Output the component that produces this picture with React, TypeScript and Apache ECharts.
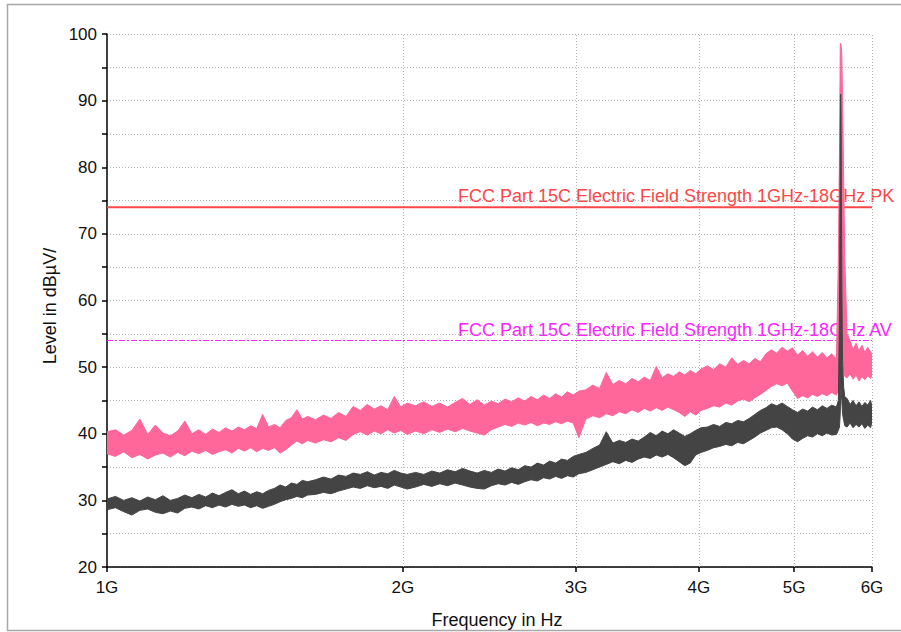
import React, { useEffect, useRef } from "react";
import * as echarts from "echarts";

// Frequency grid in GHz
const freqGHz = [
  1.00, 1.02, 1.04, 1.06, 1.08, 1.10, 1.12, 1.14, 1.16, 1.18, 1.20, 1.22, 1.24, 1.26, 1.28, 1.30,
  1.32, 1.34, 1.36, 1.38, 1.40, 1.42, 1.44, 1.46, 1.48, 1.50, 1.52, 1.54, 1.56, 1.58, 1.60,
  1.63, 1.66, 1.69, 1.72, 1.75, 1.78, 1.81, 1.84, 1.87, 1.90, 1.93, 1.96, 1.99, 2.02,
  2.06, 2.10, 2.14, 2.18, 2.22, 2.26, 2.30, 2.34, 2.38, 2.42, 2.46, 2.50, 2.54, 2.58, 2.62,
  2.66, 2.70, 2.74, 2.78, 2.82, 2.86, 2.90, 2.94, 2.98, 3.02,
  3.07, 3.12, 3.17, 3.22, 3.27, 3.32, 3.37, 3.42, 3.47, 3.52, 3.57, 3.62, 3.67, 3.72, 3.77,
  3.82, 3.87, 3.92, 3.97, 4.02,
  4.08, 4.14, 4.20, 4.26, 4.32, 4.38, 4.44, 4.50, 4.56, 4.62, 4.68, 4.74, 4.80, 4.86, 4.92,
  4.98, 5.04, 5.10, 5.16, 5.22, 5.28, 5.34, 5.40, 5.46, 5.52,
  5.545, 5.56, 5.57, 5.575, 5.58, 5.59, 5.60, 5.615, 5.63,
  5.66, 5.70, 5.74, 5.78, 5.82, 5.86, 5.90, 5.94, 5.98, 6.00,
];

// Peak trace (upper / lower envelope of the noisy trace), dBµV/m
const peakHi = [
  40.3, 40.6, 39.8, 40.5, 42.2, 39.9, 41.3, 40.1, 39.7, 40.4, 41.9, 40.0, 40.6, 39.9, 40.7, 40.2,
  40.9, 40.4, 41.0, 40.6, 41.2, 40.8, 42.9, 41.0, 41.4, 40.9, 42.0, 42.4, 43.6, 42.2, 42.6,
  42.1, 42.8, 42.3, 43.2, 42.6, 44.1, 43.5, 44.4, 43.7, 44.2, 43.6, 45.6, 44.0, 44.6,
  44.2, 44.8, 44.1, 44.6, 44.0, 44.7, 45.3, 44.4, 45.1, 44.3, 44.9, 44.5, 45.2, 44.8, 45.4,
  44.9, 45.6, 45.1, 45.8, 45.3, 46.0, 45.5, 46.3, 45.8, 46.4,
  46.6, 47.3, 46.8, 49.2, 47.4, 48.0, 47.5, 48.3, 47.8, 48.5, 48.0, 50.1, 48.4, 49.0, 48.6,
  49.3, 48.8, 49.5, 49.0, 49.7,
  50.2, 49.6, 50.5, 50.0, 51.4, 50.4, 51.0, 50.5, 51.3, 50.8, 52.0, 52.6, 52.1, 53.0, 52.4,
  52.9, 51.8, 52.5, 51.6, 52.3, 51.5, 52.2, 51.4, 52.0, 51.2,
  66, 82, 98.2, 98.6, 98.4, 97.0, 90, 78, 66,
  55.0, 54.0, 52.6, 53.6, 52.4, 53.3, 52.2, 53.0, 52.3, 52.0,
];
const peakLo = [
  37.0, 36.6, 37.3, 36.4, 36.9, 36.2, 36.8, 37.1, 36.5, 37.2, 36.7, 37.4, 37.0, 37.5, 36.9, 37.3,
  37.6, 37.1, 37.8, 37.4, 37.9, 37.3, 37.8, 37.5, 37.9, 37.1, 37.6, 38.3, 38.9, 38.5, 39.0,
  38.6, 39.1, 38.8, 39.4, 39.0, 39.9, 40.3, 39.8, 40.4, 40.0, 40.6, 40.1, 40.5, 39.9,
  40.4, 40.0, 40.6, 40.2, 40.7, 40.3, 40.8, 40.4, 40.1, 39.8, 40.6, 41.0, 41.4, 41.1, 41.6,
  41.3, 41.7, 41.2, 41.6, 41.4, 41.8, 41.5, 41.9, 41.6, 39.4,
  42.2, 42.7, 42.4, 43.0, 42.7, 43.3, 43.0, 43.6, 43.2, 43.8, 43.4, 43.9, 43.5, 44.0, 43.6,
  43.2, 42.6, 43.3, 42.8, 43.5,
  43.8, 44.2, 44.0, 44.6, 44.3, 44.9, 45.2, 44.8, 45.4, 45.9, 46.5, 47.1, 47.5, 47.2, 47.6,
  46.4, 45.3, 45.7, 45.4, 45.9, 45.6, 46.0, 45.7, 46.2, 45.8,
  46.5, 47, 48, 49, 50, 52, 51, 49.5, 48.6,
  48.4, 49.0, 48.2, 48.8, 47.9, 48.6, 48.1, 48.7, 48.3, 48.9,
];

// Average trace (upper / lower envelope)
const avgHi = [
  30.2, 30.6, 30.0, 30.4, 29.9, 30.5, 30.1, 30.7, 30.0, 30.3, 30.8, 30.4, 30.9, 30.5, 31.1, 30.7,
  31.2, 31.6, 31.0, 31.4, 30.9, 31.3, 31.0, 31.5, 31.8, 32.3, 32.0, 32.6, 32.4, 33.0, 32.8,
  33.1, 33.5, 33.2, 33.8, 33.6, 34.1, 33.9, 34.3, 33.8, 34.2, 34.0, 34.5, 34.1, 33.9,
  34.2, 33.9, 34.4, 34.1, 34.6, 34.3, 34.8, 34.4, 34.1, 34.5, 34.2, 34.7, 34.4, 34.9, 34.6,
  35.2, 35.0, 35.6, 35.3, 35.9, 35.6, 36.2, 36.0, 36.6, 36.9,
  37.2, 37.8, 38.3, 40.3, 38.6, 39.0, 38.7, 39.2, 38.9, 39.5, 40.2, 39.7, 40.4, 40.0, 40.6,
  40.1, 39.6, 40.0, 40.5, 40.9,
  41.0, 41.4, 41.1, 41.7, 41.5, 42.0, 41.8, 42.3, 42.9, 43.5, 43.9, 44.5, 44.2, 44.6, 44.1,
  43.6, 43.2, 43.7, 43.4, 44.0, 43.6, 44.2, 43.8, 44.3, 44.0,
  45, 58, 84, 91, 88, 64, 51, 47, 45.5,
  45.3, 44.4, 45.0, 44.2, 44.8, 44.1, 44.7, 44.3, 45.0, 44.0,
];
const avgLo = [
  28.6, 28.9, 28.3, 27.8, 28.5, 28.7, 28.2, 28.0, 28.4, 28.1, 28.8, 29.0, 28.7, 29.2, 28.9, 29.3,
  29.0, 29.4, 29.1, 29.3, 28.9, 29.2, 28.8, 29.1, 29.4, 29.8, 30.1, 30.3, 30.6, 30.4, 30.8,
  30.9, 31.2, 31.0, 31.4, 31.7, 32.0, 31.8, 32.2, 31.9, 32.1, 31.8, 32.3, 32.0, 31.7,
  32.0, 32.4, 32.1, 32.5, 32.2, 32.6, 32.3, 32.0, 31.8, 31.7, 32.2, 32.5, 32.3, 32.7, 32.4,
  32.8, 33.1, 32.9, 33.4, 33.2, 33.6, 33.3, 33.7, 33.5, 34.0,
  34.2, 34.6, 35.0, 35.4, 35.8, 35.5, 36.0, 35.7, 36.2, 36.5, 36.3, 36.8, 36.5, 36.9, 36.4,
  35.8, 35.2, 35.6, 36.8, 37.2,
  37.5, 37.9, 38.1, 38.4, 38.2, 38.7, 38.5, 39.0, 39.5, 40.1, 40.5, 40.9, 41.0, 40.6, 40.0,
  39.2, 38.8, 39.3, 39.7, 39.5, 40.0, 39.7, 40.1, 39.8, 39.9,
  40.5, 41, 43, 46, 47, 45, 43, 42, 41.2,
  41.0, 41.6, 40.9, 41.4, 41.0, 41.5, 40.8, 41.3, 40.9, 41.8,
];

const xTicks = [1, 2, 3, 4, 5, 6];
const xGridLines = [2, 3, 4, 5, 6];
const limitPK = 74;
const limitAV = 54;
const limitPKName = "FCC Part 15C Electric Field Strength 1GHz-18GHz PK";
const limitAVName = "FCC Part 15C Electric Field Strength 1GHz-18GHz AV";
const xName = "Frequency in Hz";
const yName = "Level in dBµV/";

const FONT = "'Liberation Sans', Arial, sans-serif";
const PINK = "#ff6699";
const GREY = "#444444";
const RED = "#ff4646";
const MAGENTA = "#ff22ff";
const GRID = "#b4b4b4";

function bandSeries(name: string, hi: number[], lo: number[], color: string, z: number) {
  const n = Math.min(freqGHz.length, hi.length, lo.length);
  const data = [];
  for (let i = 0; i < n; i++) data.push([freqGHz[i], hi[i], lo[i]]);
  return {
    name,
    type: "custom",
    coordinateSystem: "cartesian2d",
    silent: true,
    z,
    clip: true,
    encode: { x: 0, y: [1, 2] },
    data,
    renderItem: (params: any, api: any) => {
      if (params.dataIndex !== 0) return null;
      const pts: number[][] = [];
      for (let i = 0; i < n; i++) pts.push(api.coord([freqGHz[i], hi[i]]));
      for (let i = n - 1; i >= 0; i--) pts.push(api.coord([freqGHz[i], lo[i]]));
      return {
        type: "polygon",
        shape: { points: pts },
        style: { fill: color, stroke: color, lineWidth: 1, lineJoin: "round" },
      };
    },
  };
}

export default function App() {
  const ref = useRef<HTMLDivElement>(null);
  useEffect(() => {
    if (!ref.current) return;
    const chart = echarts.init(ref.current, undefined, { renderer: "svg" });
    const dotted = { color: GRID, type: [1, 2], width: 1 };
    const option: any = {
      animation: false,
      backgroundColor: "#ffffff",
      grid: { left: 107, right: 29, top: 34, bottom: 65 },
      xAxis: {
        type: "log",
        logBase: 10,
        min: 1,
        max: 6,
        axisLine: { show: true, onZero: false, lineStyle: { color: "#000", width: 1.5 } },
        axisTick: { show: true, customValues: xTicks, length: 5, lineStyle: { color: "#000", width: 1.5 } },
        axisLabel: {
          customValues: xTicks,
          formatter: (v: number) => `${Math.round(v)}G`,
          fontFamily: FONT,
          fontSize: 17,
          color: "#111",
          margin: 12,
        },
        splitLine: { show: false },
        minorTick: { show: false },
        minorSplitLine: { show: false },
      },
      yAxis: {
        type: "value",
        min: 20,
        max: 100,
        interval: 10,
        axisLine: { show: true, lineStyle: { color: "#000", width: 1.5 } },
        axisTick: { show: true, length: 5, lineStyle: { color: "#000", width: 1.5 } },
        minorTick: { show: true, splitNumber: 2, length: 5, lineStyle: { color: "#000", width: 1.5 } },
        splitLine: { show: true, lineStyle: dotted },
        minorSplitLine: { show: true, lineStyle: dotted },
        axisLabel: { fontFamily: FONT, fontSize: 17, color: "#111", margin: 10 },
      },
      series: [
        {
          name: "PK limit",
          type: "line",
          data: [[1, limitPK], [6, limitPK]],
          symbol: "none",
          z: 2,
          silent: true,
          lineStyle: { color: RED, width: 2.2 },
          markLine: {
            silent: true,
            symbol: ["none", "none"],
            label: { show: false },
            lineStyle: { color: GRID, type: [1, 2], width: 1 },
            data: xGridLines.map((v) => ({ xAxis: v })),
            z: 1,
          },
        },
        {
          name: "AV limit",
          type: "line",
          data: [[1, limitAV], [6, limitAV]],
          symbol: "none",
          z: 2,
          silent: true,
          lineStyle: { color: MAGENTA, width: 1, type: [6, 2, 2, 2] },
        },
        bandSeries("Peak", peakHi, peakLo, PINK, 3),
        bandSeries("Average", avgHi, avgLo, GREY, 4),
      ],
      graphic: [
        {
          type: "rect",
          z: -10,
          silent: true,
          shape: { x: 7.5, y: 4.5, width: 900, height: 626 },
          style: { fill: "none", stroke: "#a8a8a8", lineWidth: 1.5 },
        },
        {
          type: "text",
          silent: true,
          x: 458,
          y: 196,
          style: { text: limitPKName, fill: RED, font: `18px ${FONT}`, verticalAlign: "middle", align: "left" },
        },
        {
          type: "text",
          silent: true,
          x: 458,
          y: 330,
          style: { text: limitAVName, fill: MAGENTA, font: `18px ${FONT}`, verticalAlign: "middle", align: "left" },
        },
        {
          type: "text",
          silent: true,
          x: 497,
          y: 620,
          style: { text: xName, fill: "#111", font: `18px ${FONT}`, verticalAlign: "middle", align: "center" },
        },
        {
          type: "text",
          silent: true,
          x: 50,
          y: 306,
          rotation: Math.PI / 2,
          style: { text: yName, fill: "#111", font: `18px ${FONT}`, verticalAlign: "middle", align: "center" },
        },
      ],
    };
    chart.setOption(option);
    return () => chart.dispose();
  }, []);
  return (
    <div
      ref={ref}
      style={{ position: "fixed", left: 0, top: 0, width: 901, height: 632, background: "#fff" }}
    />
  );
}
